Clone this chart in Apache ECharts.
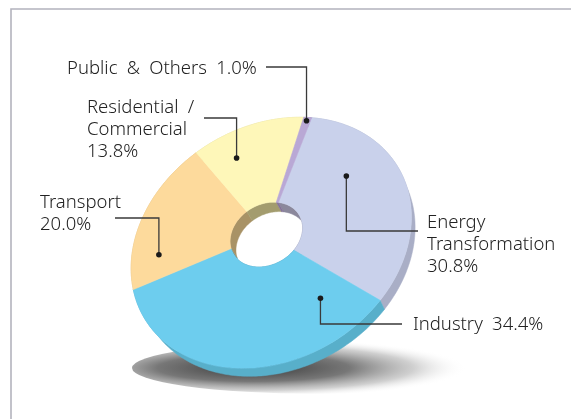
<!DOCTYPE html>
<html>
<head>
<meta charset="utf-8">
<script src="https://cdn.jsdelivr.net/npm/echarts@6/dist/echarts.min.js"></script>
<style>
html, body { margin: 0; padding: 0; background: #ffffff; }
#chart { width: 571px; height: 419px; }
</style>
</head>
<body>
<div id="chart"></div>
<script>
// Final energy consumption by sector (%)
const categories = ['Energy\nTransformation', 'Industry', 'Transport', 'Residential /\nCommercial', 'Public & Others'];
const values = [30.8, 34.4, 20.0, 13.8, 1.0];
const valueSeparators = ['\n', ' ', '\n', '\n', ' '];

// Face, outer side wall and hole wall colours per sector
const topColors = ['#c9d1eb', '#6dcdee', '#fdda9c', '#fef7b9', '#b9a8d5'];
const wallColors = ['#a9aec6', '#58afca', '#d9b77a', '#d8d095', '#9686b2'];
const innerColors = ['#8b889c', '#4f98b0', '#a89266', '#a39c6e', '#857498'];

// Tilted, extruded donut geometry
const CX = 266, CY = 234, R = 147;
const ALPHA = 30.8 * Math.PI / 180;   // in-plane rotation of the disc
const BETA = 38 * Math.PI / 180;      // tilt of the disc toward the viewer
const DIST = 7;                       // perspective distance (in radii)
const THICK = 0.12;                   // disc thickness (in radii)
const INNER = 0.26;                   // hole radius ratio
const START = -44.5;                  // start angle of the first sector

// Leader/label layout: dot placed inside the sector (fraction of sweep, radius),
// elbow line y, line end x, text anchor (left x, first-line centre y)
const labelLayout = [
  { f: 0.344, r: 0.68, elbowY: 231, endX: 418, tx: 427, ty: 223 },
  { f: 0.13,  r: 0.68, elbowY: 324, endX: 402, tx: 413, ty: 325 },
  { f: 0.20,  r: 0.79, elbowY: 218, endX: 115, tx: 40,  ty: 203 },
  { f: 0.31,  r: 0.745, elbowY: 118, endX: 204, tx: 87, ty: 108 },
  { f: 0.5,   r: 0.97, elbowY: 67,  endX: 266, tx: 67,  ty: 69 }
];

const total = values.reduce((a, b) => a + b, 0);
const startAngles = [];
values.reduce((acc, v) => { startAngles.push(START + acc / total * 360); return acc + v; }, 0);

function project(r, deg, h) {
  const t = deg * Math.PI / 180;
  const x = r * Math.cos(t), y = r * Math.sin(t);
  const X = x;
  const Y = y * Math.cos(BETA) + h * Math.sin(BETA);
  const Z = -y * Math.sin(BETA) + h * Math.cos(BETA);
  const s = DIST / (DIST + Z);
  const px = X * s, py = Y * s;
  return [
    CX + R * (px * Math.cos(ALPHA) + py * Math.sin(ALPHA)),
    CY + R * (-px * Math.sin(ALPHA) + py * Math.cos(ALPHA))
  ];
}

function arc(r, a0, a1, h) {
  const n = Math.max(2, Math.ceil(Math.abs(a1 - a0)));
  const pts = [];
  for (let k = 0; k <= n; k++) pts.push(project(r, a0 + (a1 - a0) * k / n, h));
  return pts;
}

// Labels are set with wide word spacing
const FONT = '300 18.5px "Noto Sans", "Liberation Sans", sans-serif';
const wideSpaces = s => s.replace(/ /g, '\u2002');

function renderItem(params, api) {
  const i = params.dataIndex;
  const v = api.value(0);
  const t0 = startAngles[i];
  const t1 = t0 + v / total * 360;

  const top = arc(1, t0, t1, 0).concat(arc(INNER, t1, t0, 0));
  const outerWall = arc(1, t0, t1, 0).concat(arc(1, t1, t0, THICK));
  const innerWall = arc(INNER, t0, t1, 0).concat(arc(INNER, t1, t0, THICK));

  const L = labelLayout[i];
  const dot = project(L.r, t0 + (t1 - t0) * L.f, 0);
  const text = wideSpaces(categories[i] + valueSeparators[i] + v.toFixed(1) + '%');

  return {
    type: 'group',
    children: [
      { type: 'polygon', z2: 1, shape: { points: outerWall },
        style: { fill: wallColors[i], stroke: wallColors[i], lineWidth: 0.5 } },
      { type: 'polygon', z2: 2, shape: { points: innerWall },
        style: { fill: innerColors[i], stroke: innerColors[i], lineWidth: 0.5 } },
      { type: 'polygon', z2: 10, shape: { points: top },
        style: { fill: topColors[i], stroke: topColors[i], lineWidth: 0.6 } },
      { type: 'polyline', z2: 20,
        shape: { points: [dot, [dot[0], L.elbowY], [L.endX, L.elbowY]] },
        style: { stroke: '#3a3a3a', lineWidth: 1.3, fill: null } },
      { type: 'circle', z2: 21, shape: { cx: dot[0], cy: dot[1], r: 2.8 },
        style: { fill: '#1a1a1a' } },
      { type: 'text', z2: 22, x: L.tx, y: L.ty - 11,
        style: { text: text, font: FONT, fill: '#222222', lineHeight: 22,
                 align: 'left', verticalAlign: 'top' } }
    ]
  };
}

const chart = echarts.init(document.getElementById('chart'), null, { renderer: 'canvas' });
chart.setOption({
  backgroundColor: '#ffffff',
  animation: false,
  graphic: [
    { type: 'polyline', z: 0, shape: { points: [[11, 430], [11, 9], [580, 9]] },
      style: { stroke: '#b3b3bd', lineWidth: 1.6, fill: null } },
    { type: 'circle', z: 0, x: 316, y: 368, scaleY: 0.14,
      shape: { cx: 0, cy: 0, r: 184 },
      style: { fill: new echarts.graphic.RadialGradient(0.33, 0.5, 0.58, [
        { offset: 0, color: 'rgba(45,45,45,0.95)' },
        { offset: 0.45, color: 'rgba(85,85,85,0.8)' },
        { offset: 0.75, color: 'rgba(150,150,150,0.45)' },
        { offset: 1, color: 'rgba(255,255,255,0)' }
      ]) } }
  ],
  series: [{
    type: 'custom',
    coordinateSystem: 'none',
    renderItem: renderItem,
    data: values.map(v => [v])
  }]
});
</script>
</body>
</html>
